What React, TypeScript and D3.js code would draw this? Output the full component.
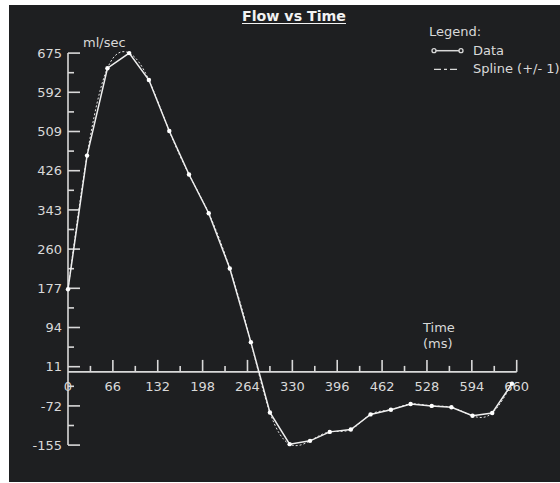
import React, { useEffect, useRef } from 'react';
import * as d3 from 'd3';

// Flow vs Time readings (ms, ml/sec)
const timeMs = [0, 28, 58, 90, 119, 149, 178, 207, 238, 269, 297, 326, 356, 385, 416, 445, 475, 504, 535, 564, 595, 624, 653];
const flow = [175, 458, 643, 675, 618, 510, 418, 336, 219, 63, -86, -153, -146, -127, -122, -90, -80, -68, -72, -75, -93, -87, -25];

const yTicks = [-155, -72, 11, 94, 177, 260, 343, 426, 509, 592, 675];
const xTicks = [0, 66, 132, 198, 264, 330, 396, 462, 528, 594, 660];

export default function App() {
  const ref = useRef<SVGSVGElement | null>(null);

  useEffect(() => {
    const el = ref.current;
    if (!el) return;
    const svg = d3.select(el);
    svg.selectAll('*').remove();

    const W = 560;
    const H = 483;
    const bg = '#1e1f21';
    const fg = '#d9d9d9';
    const font = '"DejaVu Sans", sans-serif';

    svg.append('rect').attr('width', W).attr('height', H).attr('fill', '#ffffff');
    svg.append('rect').attr('x', 9).attr('y', 5).attr('width', W - 9).attr('height', 477).attr('fill', bg);

    const x = d3.scaleLinear().domain([0, 660]).range([68, 516.7]);
    const y = d3.scaleLinear().domain([-155, 675]).range([445.1, 53.1]);

    // axes
    const axis = svg.append('g').attr('stroke', fg).attr('stroke-width', 1.6).attr('fill', 'none');
    axis.append('line').attr('x1', x(0)).attr('x2', x(0)).attr('y1', y(675)).attr('y2', y(-155));
    axis.append('line').attr('x1', x(0)).attr('x2', x(660)).attr('y1', y(0)).attr('y2', y(0));

    // y ticks (major + minor in between)
    yTicks.forEach((v, i) => {
      axis.append('line').attr('x1', x(0)).attr('x2', x(0) + 12).attr('y1', y(v)).attr('y2', y(v));
      if (i < yTicks.length - 1) {
        const m = (v + yTicks[i + 1]) / 2;
        axis.append('line').attr('x1', x(0)).attr('x2', x(0) + 6).attr('y1', y(m)).attr('y2', y(m));
      }
    });
    // x ticks
    xTicks.forEach((v, i) => {
      if (v > 0) axis.append('line').attr('x1', x(v)).attr('x2', x(v)).attr('y1', y(0)).attr('y2', y(0) - 12);
      if (i < xTicks.length - 1) {
        const m = (v + xTicks[i + 1]) / 2;
        axis.append('line').attr('x1', x(m)).attr('x2', x(m)).attr('y1', y(0)).attr('y2', y(0) - 6);
      }
    });

    const labels = svg.append('g').attr('fill', fg).attr('font-family', font).attr('font-size', 13);
    yTicks.forEach((v) => {
      labels.append('text').attr('x', 62).attr('y', y(v)).attr('dy', '0.36em').attr('text-anchor', 'end').text(String(v));
    });
    xTicks.forEach((v) => {
      labels.append('text').attr('x', x(v)).attr('y', 391).attr('text-anchor', 'middle').text(String(v));
    });

    labels.append('text').attr('x', 83).attr('y', 46.5).text('ml/sec');
    labels.append('text').attr('x', 423).attr('y', 332).text('Time');
    labels.append('text').attr('x', 423).attr('y', 348).text('(ms)');

    // title
    svg
      .append('text')
      .attr('x', 242)
      .attr('y', 21)
      .attr('fill', '#f2f2f2')
      .attr('font-family', font)
      .attr('font-weight', 'bold')
      .attr('font-size', 14)
      .attr('textLength', 104)
      .attr('lengthAdjust', 'spacingAndGlyphs')
      .text('Flow vs Time');
    svg.append('line').attr('x1', 242).attr('x2', 346).attr('y1', 23.5).attr('y2', 23.5).attr('stroke', '#f2f2f2').attr('stroke-width', 1);

    // legend
    const lg = svg.append('g').attr('fill', fg).attr('font-family', font).attr('font-size', 13);
    lg.append('text').attr('x', 429).attr('y', 36).text('Legend:');
    lg.append('text').attr('x', 473).attr('y', 55).text('Data');
    lg.append('text').attr('x', 473).attr('y', 72.5).text('Spline (+/- 1)');
    lg.append('line').attr('x1', 434).attr('x2', 461).attr('y1', 50.7).attr('y2', 50.7).attr('stroke', fg).attr('stroke-width', 1.5);
    [434, 461].forEach((cx) => {
      lg.append('circle').attr('cx', cx).attr('cy', 50.7).attr('r', 2).attr('fill', bg).attr('stroke', fg).attr('stroke-width', 1.3);
    });
    lg.append('line')
      .attr('x1', 434).attr('x2', 460).attr('y1', 69.3).attr('y2', 69.3)
      .attr('stroke', fg).attr('stroke-width', 1.3).attr('stroke-dasharray', '7 3 3 3');

    const pts: [number, number][] = timeMs.map((t, i) => [t, flow[i]]);

    // spline (dashed)
    const spline = d3.line<[number, number]>().x((d) => x(d[0])).y((d) => y(d[1])).curve(d3.curveNatural);
    svg.append('path').attr('d', spline(pts)).attr('fill', 'none').attr('stroke', '#e6e6e6')
      .attr('stroke-width', 1).attr('stroke-dasharray', '2 2');

    // data polyline
    const line = d3.line<[number, number]>().x((d) => x(d[0])).y((d) => y(d[1]));
    svg.append('path').attr('d', line(pts)).attr('fill', 'none').attr('stroke', '#eeeeee').attr('stroke-width', 1.5);

    svg.append('g').selectAll('circle').data(pts).join('circle')
      .attr('cx', (d) => x(d[0])).attr('cy', (d) => y(d[1])).attr('r', 2.2).attr('fill', '#ffffff');
  }, []);

  return <svg ref={ref} width={560} height={483} style={{ position: 'absolute', left: 0, top: 0 }} />;
}
